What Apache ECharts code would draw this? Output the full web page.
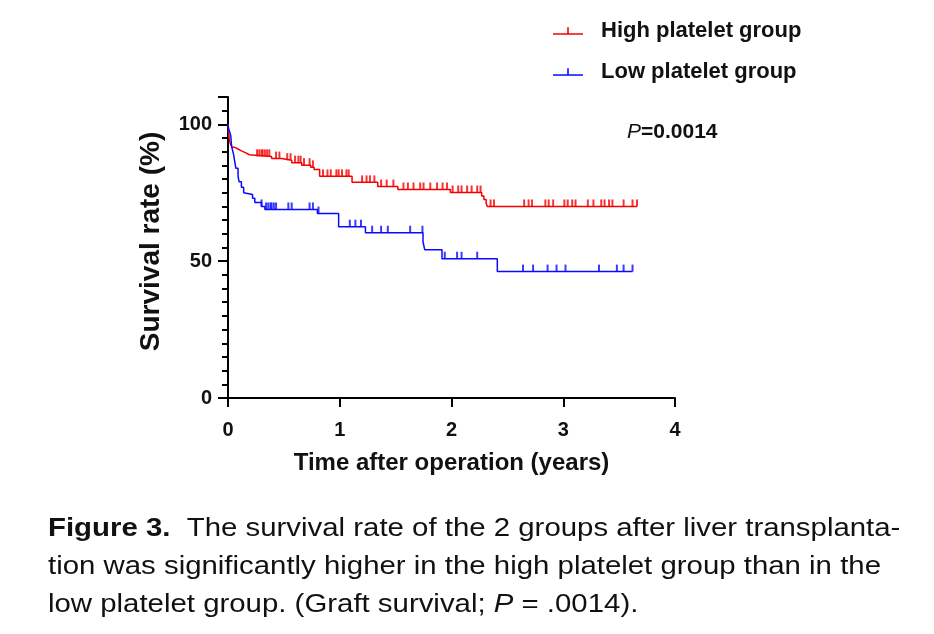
<!DOCTYPE html>
<html>
<head>
<meta charset="utf-8">
<script src="https://cdn.jsdelivr.net/npm/echarts@6/dist/echarts.min.js"></script>
<style>
  html, body { margin: 0; padding: 0; background: #fff; }
  #main { width: 934px; height: 634px; }
</style>
</head>
<body>
<div id="main"></div>
<script type="text/javascript">
    // Kaplan-Meier steps: [years, survival %]
    var highName = 'High platelet group';
    var lowName = 'Low platelet group';
    var highSteps = [
        [0, 100], [0.005, 97.5], [0.01, 95], [0.02, 93], [0.035, 91.6], [0.06, 91],
        [0.09, 90.3], [0.12, 89.6], [0.16, 88.9], [0.19, 88.3], [0.39, 87.5],
        [0.48, 86.9], [0.57, 86.0], [0.66, 85.1], [0.74, 84.3], [0.77, 83.5],
        [0.82, 81.0], [1.11, 78.8], [1.34, 77.3], [1.52, 76.2], [1.99, 75.1],
        [2.27, 73.8], [2.29, 72.5], [2.31, 71.2], [2.32, 70.0], [3.66, 70.0]
    ];
    var lowSteps = [
        [0, 100], [0.005, 98.6], [0.015, 97.2], [0.025, 95.8], [0.03, 93], [0.035, 91.5],
        [0.05, 89], [0.06, 86.5], [0.07, 84], [0.09, 81], [0.1, 79], [0.12, 77],
        [0.14, 75], [0.15, 74.4], [0.22, 73], [0.24, 71.4], [0.3, 70], [0.33, 68.9],
        [0.8, 67.4], [0.99, 62.6], [1.23, 60.4], [1.745, 57.1], [1.76, 54.2],
        [1.915, 50.9], [2.41, 46.2], [3.62, 46.2]
    ];
    // censored times (tick marks)
    var highCensor = [
        0.26, 0.28, 0.30, 0.31, 0.33, 0.35, 0.37, 0.43, 0.46, 0.53, 0.56, 0.60, 0.63,
        0.65, 0.68, 0.73, 0.76, 0.85, 0.89, 0.92, 0.97, 0.99, 1.02, 1.06, 1.08,
        1.20, 1.24, 1.27, 1.31, 1.37, 1.42, 1.48, 1.57, 1.61, 1.66, 1.72, 1.75,
        1.81, 1.87, 1.92, 1.96, 2.01, 2.06, 2.09, 2.14, 2.18, 2.23, 2.26, 2.35,
        2.38, 2.65, 2.69, 2.72, 2.84, 2.87, 2.91, 3.01, 3.04, 3.08, 3.11, 3.22,
        3.27, 3.34, 3.37, 3.41, 3.44, 3.54, 3.62, 3.66
    ];
    var lowCensor = [
        0.30, 0.34, 0.36, 0.38, 0.39, 0.41, 0.43, 0.54, 0.57, 0.73, 0.76, 0.81,
        1.09, 1.14, 1.19, 1.29, 1.37, 1.43, 1.63, 1.74, 1.94, 2.05, 2.09, 2.23,
        2.64, 2.73, 2.86, 2.94, 3.02, 3.32, 3.48, 3.54, 3.62
    ];
    var pText = '=0.0014';

    function survAt(steps, t) {
        var v = steps[0][1];
        for (var i = 0; i < steps.length; i++) {
            if (steps[i][0] <= t) v = steps[i][1];
        }
        return v;
    }
    function censorPoints(steps, times) {
        return times.map(function (t) { return [t, survAt(steps, t)]; });
    }

    var red = '#f50000';
    var blue = '#0a0aff';
    var font = '"Liberation Sans", Arial, sans-serif';
    var tickIcon = 'path://M0,7h30v1.6h-30z M14.2,1h1.6v7h-1.6z';

    var myChart = echarts.init(document.getElementById('main'));
    myChart.setOption({
        animation: false,
        textStyle: { fontFamily: font },
        grid: { left: 228, right: 259, top: 97, bottom: 236 },
        legend: {
            orient: 'vertical',
            left: 548,
            top: 15,
            itemGap: 19,
            itemWidth: 30,
            itemHeight: 10,
            data: [
                { name: highName, icon: tickIcon },
                { name: lowName, icon: tickIcon }
            ],
            textStyle: { fontFamily: font, fontSize: 22, fontWeight: 'bold', color: '#111', padding: [0, 0, 0, 13] }
        },
        xAxis: {
            type: 'value',
            min: 0, max: 4, interval: 1,
            name: 'Time after operation (years)',
            nameLocation: 'middle',
            nameGap: 53,
            nameTextStyle: { fontFamily: font, fontSize: 24, fontWeight: 'bold', color: '#111' },
            axisLine: { onZero: false, lineStyle: { color: '#000', width: 2 } },
            axisTick: { show: true, length: 9, lineStyle: { color: '#000', width: 2 } },
            axisLabel: { fontFamily: font, fontSize: 20, fontWeight: 'bold', color: '#111', margin: 22 },
            splitLine: { show: false }
        },
        yAxis: {
            type: 'value',
            min: 0, max: 110, interval: 50,
            name: 'Survival rate (%)',
            nameLocation: 'middle',
            nameGap: 63,
            nameTextStyle: { fontFamily: font, fontSize: 28, fontWeight: 'bold', color: '#111', padding: [0, 0, 0, 12] },
            axisLine: { show: true, lineStyle: { color: '#000', width: 2 } },
            axisTick: { show: true, length: 10, lineStyle: { color: '#000', width: 2 } },
            minorTick: { show: true, splitNumber: 10, length: 6, lineStyle: { color: '#000', width: 2 } },
            axisLabel: { fontFamily: font, fontSize: 20, fontWeight: 'bold', color: '#111', margin: 16, showMaxLabel: false },
            splitLine: { show: false }
        },
        series: [
            {
                name: highName, type: 'line', step: 'end', data: highSteps,
                symbol: 'none', color: red, lineStyle: { color: red, width: 1.5 }
            },
            {
                name: lowName, type: 'line', step: 'end', data: lowSteps,
                symbol: 'none', color: blue, lineStyle: { color: blue, width: 1.5 }
            },
            {
                name: 'highCensor', type: 'scatter', data: censorPoints(highSteps, highCensor),
                symbol: 'rect', symbolSize: [2, 7], symbolOffset: [0, -3.5],
                itemStyle: { color: red }
            },
            {
                name: 'lowCensor', type: 'scatter', data: censorPoints(lowSteps, lowCensor),
                symbol: 'rect', symbolSize: [2, 7], symbolOffset: [0, -3.5],
                itemStyle: { color: blue }
            }
        ],
        graphic: [
            {
                type: 'text', left: 627, top: 122,
                style: {
                    text: '{i|P}{b|' + pText + '}',
                    rich: {
                        i: { fontFamily: font, fontSize: 21, fontStyle: 'italic', fill: '#111' },
                        b: { fontFamily: font, fontSize: 21, fontWeight: 'bold', fill: '#111' }
                    }
                }
            },
            {
                type: 'text', x: 48, y: 510, scaleX: 1.13,
                style: {
                    text: '{b|Figure 3.}{n|  The survival rate of the 2 groups after liver transplanta-}\n' +
                          '{n|tion was significantly higher in the high platelet group than in the}\n' +
                          '{n|low platelet group. (Graft survival; }{i|P}{n| = .0014).}',
                    rich: {
                        b: { fontFamily: font, fontSize: 26, fontWeight: 'bold', fill: '#111', lineHeight: 38 },
                        n: { fontFamily: font, fontSize: 26, fill: '#111', lineHeight: 38 },
                        i: { fontFamily: font, fontSize: 26, fontStyle: 'italic', fill: '#111', lineHeight: 38 }
                    }
                }
            }
        ]
    });
</script>
</body>
</html>
